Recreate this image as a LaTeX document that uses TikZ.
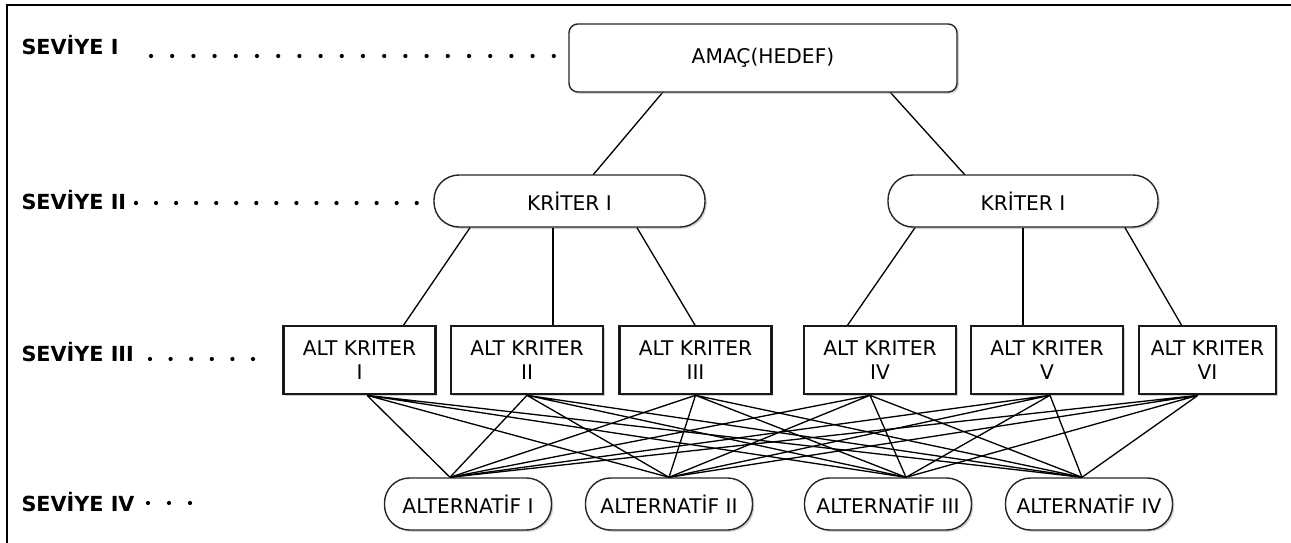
\documentclass[tikz,border=0pt]{standalone}
\usepackage{fontspec}
\setmainfont{DejaVu Sans}
\usepackage{tikz}
\usetikzlibrary{shadows}

\tikzset{
    softshadow/.style={drop shadow={shadow xshift=1pt, shadow yshift=-1pt, fill=black!40, opacity=0.45}},
    goal/.style={draw=black!85, line width=0.8pt, fill=white, rounded corners=5pt, minimum width=7.76cm, minimum height=1.36cm, softshadow},
    crit/.style={draw=black!85, line width=0.8pt, fill=white, rounded corners=0.5cm, minimum width=5.42cm, minimum height=1.04cm, softshadow},
    subcrit/.style={draw=black!90, line width=1.5pt, fill=white, minimum width=3.04cm, minimum height=1.36cm, align=center, inner sep=1pt, softshadow},
    alt/.style={draw=black!85, line width=0.8pt, fill=white, rounded corners=0.5cm, minimum width=3.34cm, minimum height=1.04cm, softshadow},
    lvl/.style={anchor=west, font=\fontsize{11.8}{14}\selectfont\bfseries},
    dotrow/.style={line width=2.4pt, line cap=round, dash pattern=on 0pt off #1},
}

\begin{document}
\begin{tikzpicture}[font=\fontsize{11.5}{14}\selectfont, line width=0.75pt]
    \useasboundingbox (0,0) rectangle (25.82,-10.86);
    \draw[line width=1.1pt] (0.14,-10.86) -- (0.14,-0.1) -- (25.82,-0.1);

    % level labels
    \node[lvl] (lv1) at (0.3,-0.9) {SEVİYE I};
    \node[lvl] (lv2) at (0.3,-4.0) {SEVİYE II};
    \node[lvl] (lv3) at (0.3,-7.04) {SEVİYE III};
    \node[lvl] (lv4) at (0.3,-10.04) {SEVİYE IV};

    \coordinate (d1a) at (3.02,-1.12);
    \coordinate (d1b) at (11.12,-1.12);
    \coordinate (d2a) at (2.72,-4.06);
    \coordinate (d2b) at (8.38,-4.06);
    \coordinate (d3a) at (3.0,-7.18);
    \coordinate (d3b) at (5.1,-7.18);
    \coordinate (d4a) at (2.96,-10.06);
    \coordinate (d4b) at (3.84,-10.06);
    \draw[dotrow=0.424cm] (d1a) -- (d1b);
    \draw[dotrow=0.401cm] (d2a) -- (d2b);
    \draw[dotrow=0.412cm] (d3a) -- (d3b);
    \draw[dotrow=0.42cm] (d4a) -- (d4b);

    % connectors
    \draw ([xshift=-2cm]15.26,-1.84) coordinate (g1) -- ([xshift=0.47cm]11.39,-3.5) coordinate (k1);
    \draw ([xshift=2.54cm]15.26,-1.84) coordinate (g2) -- ([xshift=-1.16cm]20.46,-3.5) coordinate (k2);

    \node[goal] (amac) at (15.26,-1.16) {AMAÇ(HEDEF)};
    \node[crit] (kr1) at (11.39,-4.02) {KRİTER I};
    \node[crit, minimum width=5.4cm] (kr2) at (20.46,-4.02) {KRİTER I};

    \draw ([xshift=-1.99cm]kr1.south) -- ([xshift=0.87cm]7.19,-6.52);
    \draw ([xshift=-0.33cm]kr1.south) -- ([xshift=0.52cm]10.54,-6.52);
    \draw ([xshift=1.35cm]kr1.south) -- (13.91,-6.52);
    \draw ([xshift=-2.16cm]kr2.south) -- ([xshift=-0.66cm]17.6,-6.52);
    \draw (kr2.south) -- ([xshift=-0.48cm]20.94,-6.52);
    \draw ([xshift=2.04cm]kr2.south) -- ([xshift=-0.51cm]24.15,-6.52);

    \node[subcrit] (ak1) at (7.19,-7.2) {ALT KRITER\\I};
    \node[subcrit] (ak2) at (10.54,-7.2) {ALT KRITER\\II};
    \node[subcrit] (ak3) at (13.91,-7.2) {ALT KRITER\\III};
    \node[subcrit] (ak4) at (17.6,-7.2) {ALT KRITER\\IV};
    \node[subcrit] (ak5) at (20.94,-7.2) {ALT KRITER\\V};
    \node[subcrit, minimum width=2.74cm] (ak6) at (24.15,-7.2) {ALT KRITER\\VI};

    \node[alt] (alt1) at (9.36,-10.08) {ALTERNATİF I};
    \node[alt] (alt2) at (13.38,-10.08) {ALTERNATİF II};
    \node[alt] (alt3) at (17.76,-10.08) {ALTERNATİF III};
    \node[alt] (alt4) at (21.78,-10.08) {ALTERNATİF IV};

    \coordinate (s1) at ([xshift=0.15cm]ak1.south);
    \coordinate (s2) at (ak2.south);
    \coordinate (s3) at (ak3.south);
    \coordinate (s4) at ([xshift=-0.2cm]ak4.south);
    \coordinate (s5) at ([xshift=0.06cm]ak5.south);
    \coordinate (s6) at ([xshift=-0.19cm]ak6.south);
    \coordinate (t1) at ([xshift=-0.36cm]alt1.north);
    \coordinate (t2) at (alt2.north);
    \coordinate (t3) at ([xshift=0.36cm]alt3.north);
    \coordinate (t4) at ([xshift=-0.14cm]alt4.north);

    \draw (s1) -- (t1) (s1) -- (t2) (s1) -- (t3) (s1) -- (t4);
    \draw (s2) -- (t1) (s2) -- (t2) (s2) -- (t3) (s2) -- (t4);
    \draw (s3) -- (t1) (s3) -- (t2) (s3) -- (t3) (s3) -- (t4);
    \draw (s4) -- (t1) (s4) -- (t2) (s4) -- (t3) (s4) -- (t4);
    \draw (s5) -- (t1) (s5) -- (t2) (s5) -- (t3) (s5) -- (t4);
    \draw (s6) -- (t1) (s6) -- (t2) (s6) -- (t3) (s6) -- (t4);
\end{tikzpicture}
\end{document}
